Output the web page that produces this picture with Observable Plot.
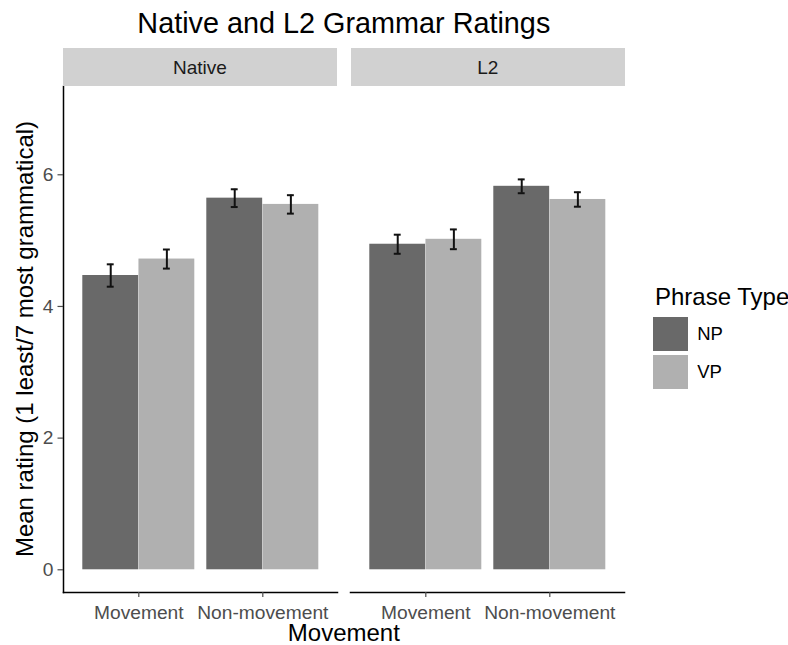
<!DOCTYPE html>
<html>
<head>
<meta charset="utf-8">
<script src="https://cdn.jsdelivr.net/npm/d3@7"></script>
<script src="https://cdn.jsdelivr.net/npm/@observablehq/plot@0.6"></script>
<style>
  body { margin: 0; background: #fff; font-family: "Liberation Sans", Arial, Helvetica, sans-serif; }
  #wrap { position: relative; width: 788px; height: 645px; overflow: hidden; background: #fff; }
  #wrap > * { position: absolute; }
  .txt { line-height: 1; white-space: nowrap; color: #000; }
  .strip { background: #d1d1d1; color: #1a1a1a; font-size: 19px; text-align: center; box-sizing: border-box; }
  .lg-swatch { padding-bottom: 4px !important; }
</style>
</head>
<body>
<div id="wrap"></div>
<script>
// ---------------- data ----------------
const groups = ["Native", "L2"];
const movements = ["Movement", "Non-movement"];
const phrases = ["NP", "VP"];
// order: Movement-NP, Movement-VP, Non-movement-NP, Non-movement-VP
const nativeMeans = [4.47, 4.72, 5.645, 5.55];
const nativeErr   = [0.17, 0.145, 0.135, 0.14];
const l2Means     = [4.945, 5.02, 5.825, 5.625];
const l2Err       = [0.145, 0.15, 0.105, 0.11];
const yTicks = [0, 2, 4, 6];
const phraseColors = ["#696969", "#b0b0b0"];
const titleText = "Native and L2 Grammar Ratings";
const yTitle = "Mean rating (1 least/7 most grammatical)";
const xTitle = "Movement";
const legendTitle = "Phrase Type";

const rows = [];
groups.forEach((g, gi) => {
  const m = gi ? l2Means : nativeMeans;
  const e = gi ? l2Err : nativeErr;
  movements.forEach((mv, mi) => phrases.forEach((p, pi) => {
    const k = mi * 2 + pi;
    rows.push({group: g, movement: mv, phrase: p, mean: m[k], lo: m[k] - e[k], hi: m[k] + e[k]});
  }));
});

// ---------------- layout ----------------
const panelLeft = 62.7, panelRight = 625, panelTop = 86, panelBottom = 592;
const gap = 13.3;
const svgW = 640, svgH = 645;
const facetW = (panelRight - panelLeft - gap) / 2;
const fxStep = facetW + gap;
const xStep = facetW / (movements.length - 0.1 + 0.3);
const bw = 0.9 * xStep;
const capHalf = 3.6;
const errColor = "#111";

function phraseMarks(p, pi) {
  const data = rows.filter(d => d.phrase === p);
  const left = pi === 0;
  const center = left ? bw / 4 : 3 * bw / 4;
  return [
    Plot.barY(data, {
      fx: "group", x: "movement", y: "mean", fill: "phrase",
      insetLeft: left ? 0 : bw / 2, insetRight: left ? bw / 2 : 0
    }),
    Plot.ruleX(data, {
      fx: "group", x: "movement", y1: "lo", y2: "hi",
      dx: center - bw / 2, stroke: errColor, strokeWidth: 2
    }),
    ...["lo", "hi"].map(k => Plot.tickY(data, {
      fx: "group", x: "movement", y: k, stroke: errColor, strokeWidth: 2,
      insetLeft: center - capHalf, insetRight: bw - center - capHalf
    }))
  ];
}

const chart = Plot.plot({
  width: svgW, height: svgH,
  marginLeft: panelLeft, marginRight: svgW - panelRight,
  marginTop: panelTop, marginBottom: svgH - panelBottom,
  style: {fontFamily: "'Liberation Sans', Arial, Helvetica, sans-serif", background: "transparent", overflow: "visible"},
  fx: {domain: groups, paddingInner: gap / fxStep, paddingOuter: 0, axis: null, label: null},
  x: {domain: movements, paddingInner: 0.1, paddingOuter: 0.15, axis: null},
  y: {domain: [-0.345, 7.341], axis: null},
  color: {domain: phrases, range: phraseColors},
  marks: [
    ...phrases.flatMap(phraseMarks),
    Plot.frame({anchor: "bottom", stroke: "#000", strokeWidth: 1.5}),
    Plot.frame({anchor: "left", facetAnchor: "left", stroke: "#000", strokeWidth: 1.5}),
    Plot.axisY(yTicks, {tickSize: 5.5, tickPadding: 4.5, fontSize: 19.2, color: "#4d4d4d", strokeWidth: 1.2,
      tickFormat: d3.format("d"), label: null}),
    Plot.axisX({tickSize: 5, tickPadding: 7.5, fontSize: 19.2, color: "#4d4d4d", strokeWidth: 1.2, label: null})
  ]
});

const wrap = document.getElementById("wrap");
chart.style.left = "0px"; chart.style.top = "0px";
wrap.appendChild(chart);

function addText(text, css) {
  const d = document.createElement("div");
  d.className = "txt";
  d.textContent = text;
  Object.assign(d.style, css);
  wrap.appendChild(d);
  return d;
}

// title
addText(titleText, {left: panelLeft + "px", width: (panelRight - panelLeft) + "px", top: "8.6px",
  textAlign: "center", fontSize: "28.8px"});

// strips
groups.forEach((g, i) => {
  const s = document.createElement("div");
  s.className = "strip";
  s.textContent = g;
  Object.assign(s.style, {left: (panelLeft + i * fxStep) + "px", top: "48.3px", width: facetW + "px",
    height: "37.4px", lineHeight: "37.4px", paddingTop: "1px"});
  wrap.appendChild(s);
});

// x axis title
addText(xTitle, {left: panelLeft + "px", width: (panelRight - panelLeft) + "px", top: "620.5px",
  height: "23px", lineHeight: "23px", textAlign: "center", fontSize: "24px"});

// y axis title
addText(yTitle, {left: (24.7 - 300) + "px", top: (339 - 12) + "px", width: "600px", height: "24px",
  textAlign: "center", fontSize: "24px", lineHeight: "24px", transform: "rotate(-90deg)"});

// legend
addText(legendTitle, {left: "655px", top: "284.7px", fontSize: "24px"});
const leg = Plot.legend({
  legend: "swatches",
  color: {domain: phrases, range: phraseColors},
  columns: 1, swatchWidth: 35, swatchHeight: 34,
  className: "lg",
  style: {fontFamily: "'Liberation Sans', Arial, Helvetica, sans-serif", fontSize: "18.5px", color: "#000"}
});
leg.style.left = "653px"; leg.style.top = "316.5px"; leg.style.margin = "0";
wrap.appendChild(leg);
</script>
</body>
</html>
